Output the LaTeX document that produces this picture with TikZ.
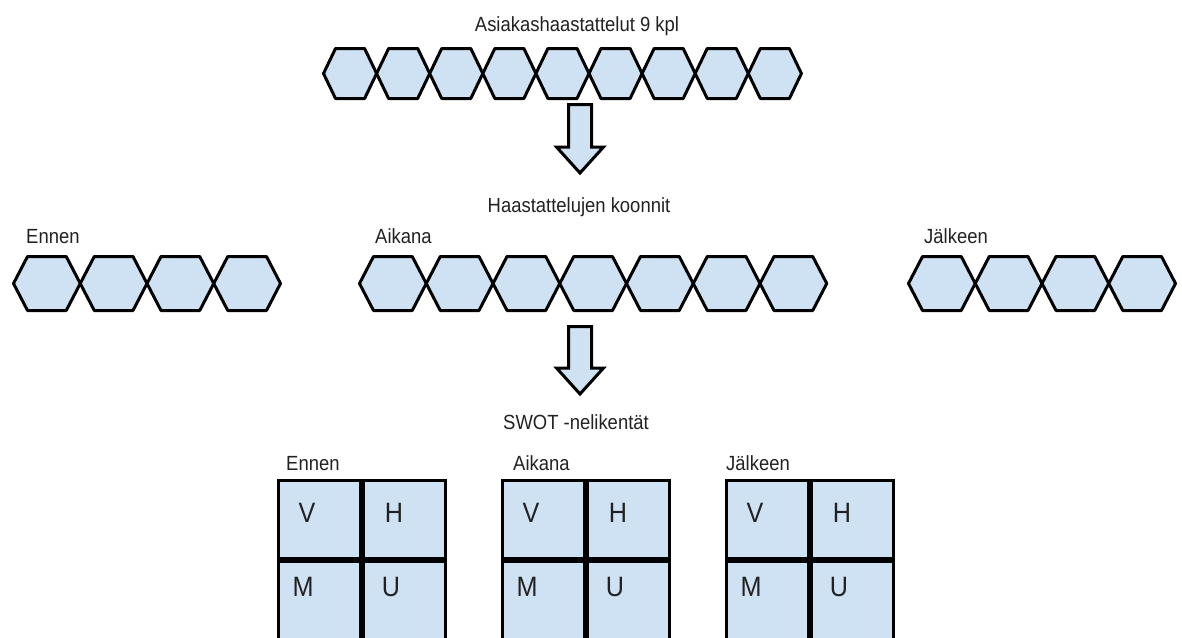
\documentclass[tikz,border=0pt]{standalone}
\usepackage{fontspec}
\setmainfont[FakeStretch=0.9]{Liberation Sans}
\definecolor{cellblue}{HTML}{CFE2F3}
\definecolor{ink}{HTML}{222222}

\tikzset{
  shapeline/.style={draw=black, fill=cellblue, line width=3pt, line join=round},
  caption/.style={font=\fontsize{20.5}{24}\selectfont, text=ink, inner sep=0pt, anchor=base},
  headline/.style={caption, anchor=base},
  sideline/.style={caption, anchor=base west},
  cell/.style={shapeline, line join=miter, anchor=north west, minimum width=82pt, inner sep=0pt},
  letter/.style={font=\fontsize{28}{32}\selectfont, text=ink, inner sep=0pt, anchor=center},
}

% a row of touching hexagons: left x, centre y, count, width, half height, inset
\newcommand\hexrow[6]{%
  \foreach \k in {1,...,#3}{%
    \pgfmathsetmacro\cx{#1+(\k-0.5)*#4}%
    \path[shapeline] ({\cx-#4/2},#2) -- ({\cx-#4/2+#6},{#2-#5}) -- ({\cx+#4/2-#6},{#2-#5})
      -- ({\cx+#4/2},#2) -- ({\cx+#4/2-#6},{#2+#5}) -- ({\cx-#4/2+#6},{#2+#5}) -- cycle;
  }%
}

% a hollow block arrow pointing down from a named top point
\newcommand\blockarrow[4]{% name, x, top y, base y ; tip follows the base
  \coordinate (#1) at (#2,#3);
  \path[shapeline, line join=miter] ([xshift=-11.5pt]#1) -- ([xshift=11.5pt]#1)
    -- ([xshift=11.5pt]#1 |- 0,#4) -- ([xshift=23.5pt]#1 |- 0,#4)
    -- ([yshift=-26pt]#1 |- 0,#4) -- ([xshift=-23.5pt]#1 |- 0,#4)
    -- ([xshift=-11.5pt]#1 |- 0,#4) -- cycle;
}

\begin{document}
\begin{tikzpicture}[x=1pt, y=-1pt]
  \useasboundingbox (0,0) rectangle (1182,637);
  \fill[white] (0,0) rectangle (1182,637);
  \clip (0,0) rectangle (1182,637);

  % interviews
  \node[headline] (interviews) at (577,31) {Asiakashaastattelut 9 kpl};
  \hexrow{323.5}{73.5}{9}{53.1}{25}{12}

  \blockarrow{arrowA}{580}{104.5}{147}

  % summaries
  \node[headline] (summaries) at (579,212) {Haastattelujen koonnit};
  \node[sideline] (sumBefore) at (26,243) {Ennen};
  \node[sideline] (sumDuring) at (375,243) {Aikana};
  \node[sideline] (sumAfter) at (924,243) {Jälkeen};
  \hexrow{13.5}{283.5}{4}{66.75}{27}{14}
  \hexrow{359.5}{283.5}{7}{66.75}{27}{14}
  \hexrow{908.5}{283.5}{4}{66.75}{27}{14}

  \blockarrow{arrowB}{580}{326.5}{368}

  % SWOT grids
  \node[headline] (swot) at (576,429) {SWOT -nelikentät};
  \node[sideline] (swBefore) at (286,470) {Ennen};
  \node[sideline] (swDuring) at (513,470) {Aikana};
  \node[sideline] (swAfter) at (726,470) {Jälkeen};

  \foreach \gx/\g in {276.5/en, 500.5/ai, 724.5/ja}{
    \node[cell, minimum height=78.5pt] (\g-v) at (\gx,478.5) {};
    \node[cell, minimum height=78.5pt] (\g-h) at (\g-v.north east) {};
    \node[cell, minimum height=95pt] (\g-m) at (\g-v.south west) {};
    \node[cell, minimum height=95pt] (\g-u) at (\g-v.south east) {};
    \node[letter] at ({\gx+30.5},513) {V};
    \node[letter] at ({\gx+117.5},513) {H};
    \node[letter] at ({\gx+26.5},587) {M};
    \node[letter] at ({\gx+114.5},587) {U};
  }
\end{tikzpicture}
\end{document}
